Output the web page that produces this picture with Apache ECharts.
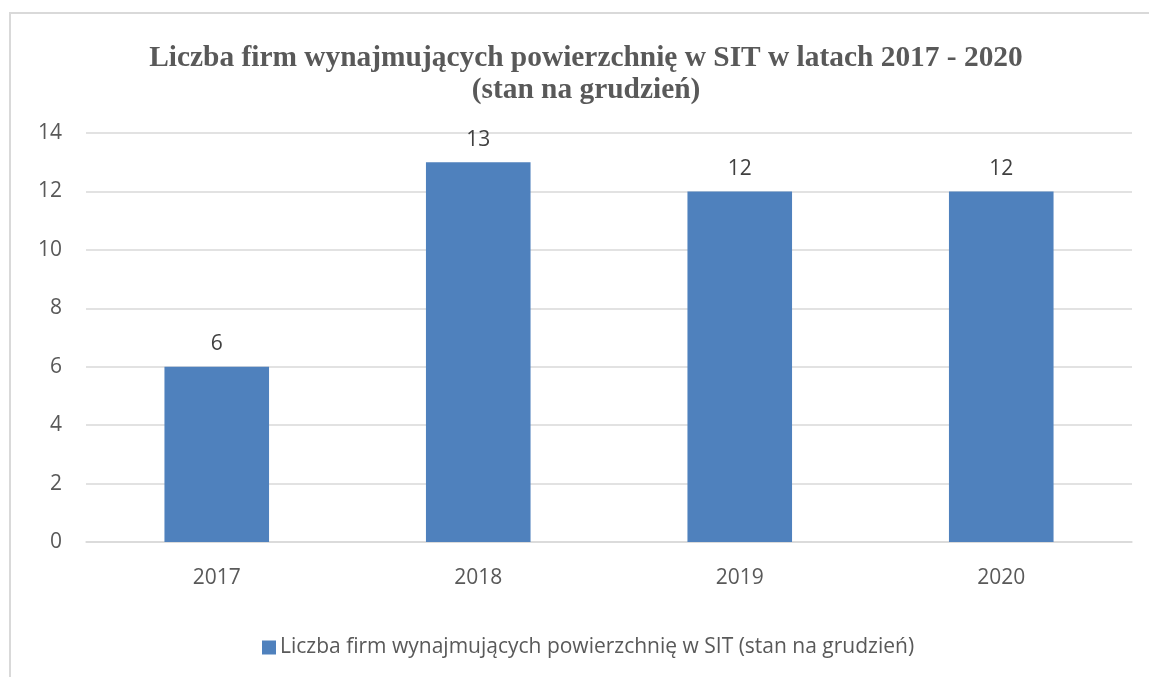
<!DOCTYPE html>
<html>
<head>
<meta charset="utf-8">
<script src="https://cdn.jsdelivr.net/npm/echarts@6/dist/echarts.min.js"></script>
<style>
  html, body { margin: 0; padding: 0; background: #fff; }
  #frame {
    position: absolute; left: 9px; top: 12px; width: 1160px; height: 700px;
    border: 2px solid #d9d9d9; box-sizing: border-box;
  }
  #chart { position: absolute; left: 0; top: 0; width: 1149px; height: 677px; }
</style>
</head>
<body>
<div id="frame"></div>
<div id="chart"></div>
<script>
// dane
const years = ['2017', '2018', '2019', '2020']
const firmCounts = [6, 13, 12, 12]
const yTicks = { min: 0, max: 14, interval: 2 }
const seriesName = 'Liczba firm wynajmujących powierzchnię w SIT (stan na grudzień)'

const chart = echarts.init(document.getElementById('chart'))
const labelFont = "'Open Sans', 'Liberation Sans', sans-serif"

const option = {
  animation: false,
  title: {
    text: 'Liczba firm wynajmujących powierzchnię w SIT w latach 2017 - 2020\n(stan na grudzień)',
    left: 581,
    top: 37,
    textAlign: 'center',
    textStyle: {
      fontFamily: "'Liberation Serif', 'Times New Roman', serif",
      fontWeight: 'bold',
      fontSize: 29.4,
      lineHeight: 32,
      color: '#595959',
    },
  },
  grid: {
    left: 86,
    right: 17,
    top: 133,
    bottom: 135,
    containLabel: false,
  },
  legend: {
    top: 632,
    left: 257,
    itemWidth: 14,
    itemHeight: 14,
    itemGap: 4,
    icon: 'rect',
    textStyle: {
      fontFamily: labelFont,
      fontSize: 21,
      color: '#595959',
      padding: [0, 0, 0, -1],
    },
  },
  xAxis: {
    type: 'category',
    data: years,
    axisLine: { lineStyle: { color: '#d9d9d9', width: 1.5 } },
    axisTick: { show: false },
    axisLabel: {
      margin: 26,
      fontFamily: labelFont,
      fontSize: 21,
      color: '#595959',
    },
  },
  yAxis: {
    type: 'value',
    min: yTicks.min,
    max: yTicks.max,
    interval: yTicks.interval,
    axisLine: { show: false },
    axisTick: { show: false },
    splitLine: { lineStyle: { color: '#d9d9d9', width: 1.5 } },
    axisLabel: {
      margin: 24,
      fontFamily: labelFont,
      fontSize: 21,
      color: '#595959',
    },
  },
  series: [
    {
      name: seriesName,
      type: 'bar',
      data: firmCounts,
      barWidth: '40%',
      itemStyle: { color: '#4f81bd' },
      label: {
        show: true,
        position: 'top',
        distance: 12,
        fontFamily: labelFont,
        fontSize: 21,
        color: '#404040',
      },
    },
  ],
}

chart.setOption(option)
</script>
</body>
</html>
